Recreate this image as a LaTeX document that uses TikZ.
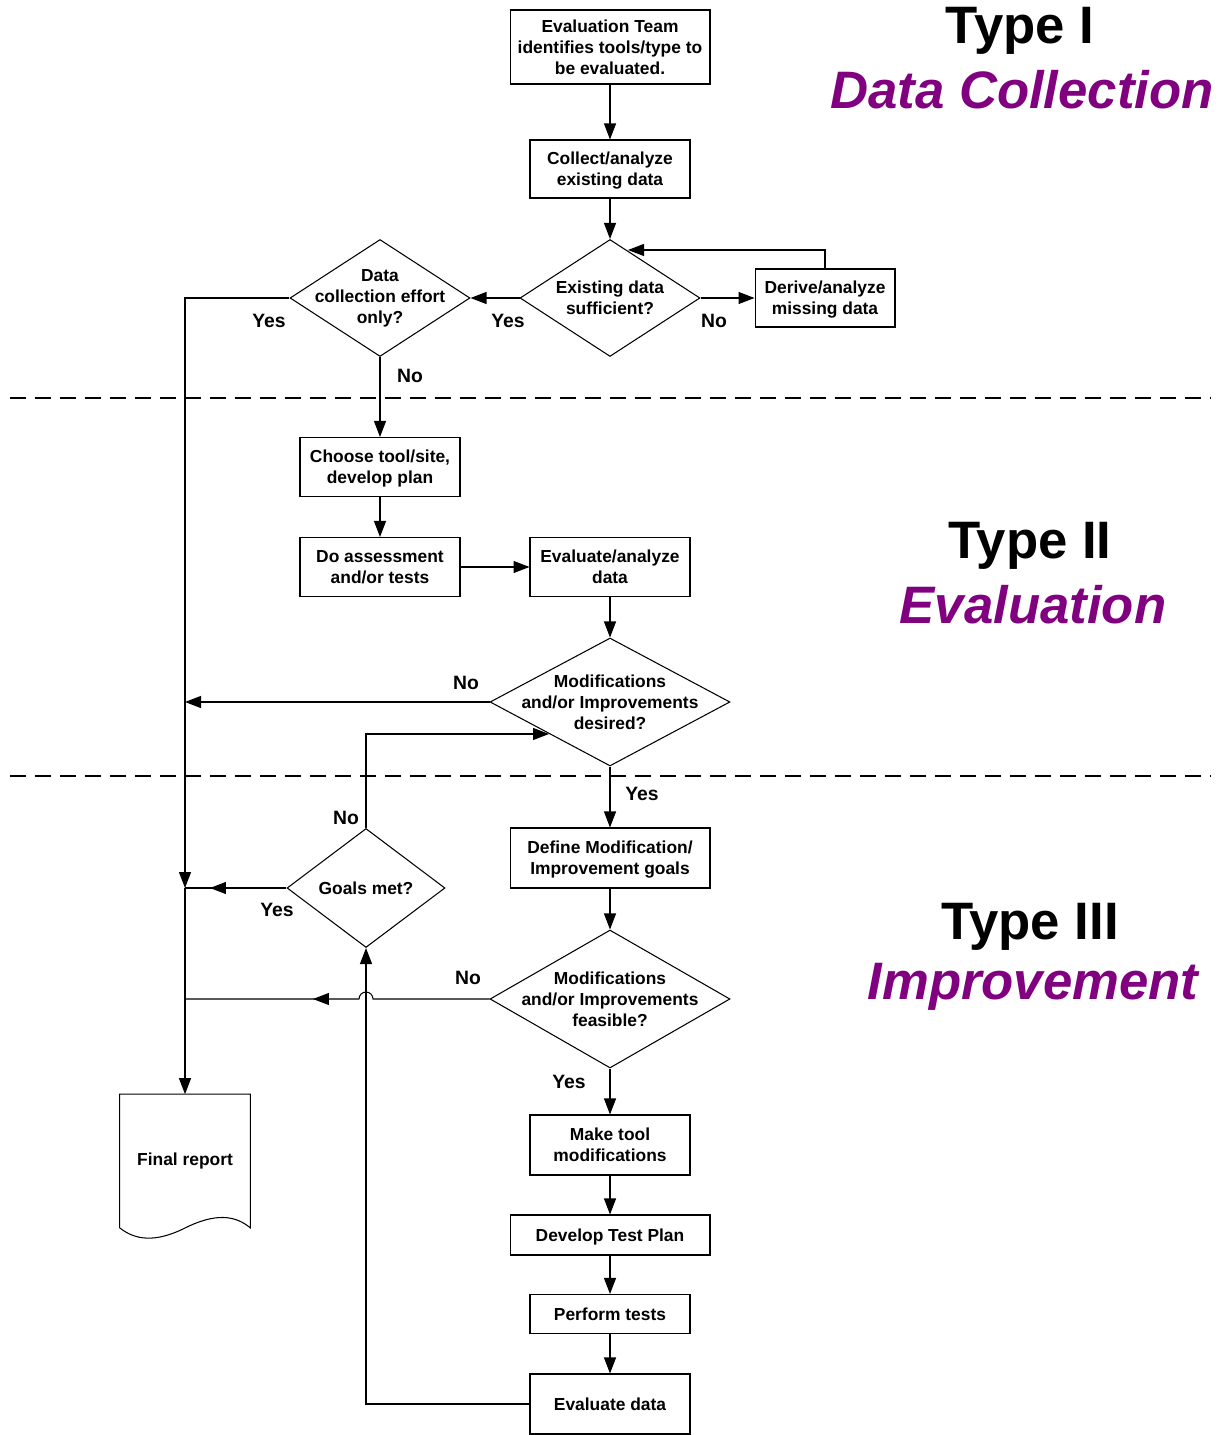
\documentclass[tikz,border=0pt]{standalone}
\usepackage{fontspec}
\setmainfont{Liberation Sans}
\usetikzlibrary{arrows.meta,positioning,shapes.geometric,decorations.markings}
\definecolor{typepurple}{HTML}{800080}
\tikzset{
  typehead/.style={font=\bfseries\fontsize{30}{34}\selectfont,text=black},
  typename/.style={font=\bfseries\itshape\fontsize{30}{34}\selectfont,text=typepurple},
  box/.style={draw,line width=0.6pt,fill=white,align=center,inner sep=1pt,text depth=0pt,font=\bfseries\fontsize{9.9}{12}\selectfont},
  decision/.style={diamond,draw,line width=0.6pt,fill=white,inner sep=0pt},
  dtext/.style={align=center,font=\bfseries\fontsize{9.9}{12}\selectfont},
  lbl/.style={font=\bfseries\fontsize{11}{13}\selectfont},
  report/.style={minimum width=2.6cm,minimum height=2.66cm,inner sep=0pt,font=\bfseries\fontsize{9.9}{12}\selectfont},
  conn/.style={line width=0.6pt},
  arr/.style={-{Triangle[length=3.2mm,width=2.4mm]},line width=0.6pt},
  midarr/.style={line width=0.6pt,postaction={decorate},decoration={markings,mark=at position #1 with {\arrow{Triangle[length=3.2mm,width=2.4mm]}}}},
  divider/.style={dash pattern=on 0.32cm off 0.18cm,line width=0.6pt}
}
\begin{document}
\begin{tikzpicture}[x=0.02cm,y=-0.02cm]
\path[use as bounding box] (0,0) rectangle (1223,1435);
% section titles
\node[typehead] (t1) at (1020,31) {Type I};
\node[typename] (n1) at (1022,90) {Data Collection};
\node[typehead] (t2) at (1030,546) {Type II};
\node[typename] (n2) at (1033,605) {Evaluation};
\node[typehead] (t3) at (1030,927) {Type III};
\node[typename] (n3) at (1033,987) {Improvement};
\draw[divider] (10,398) -- (1210,398);
\draw[divider] (10,776) -- (1210,776);

% type I
\node[box,minimum width=4cm,minimum height=1.48cm] (team) at (610,47) {Evaluation Team\\identifies tools/type to\\be evaluated.};
\node[box,minimum width=3.2cm,minimum height=1.16cm] (collect) at (610,169) {Collect/analyze\\existing data};
\node[decision,minimum width=3.6cm,minimum height=2.34cm,label={[dtext]center:Existing data\\sufficient?}] (suff) at (610,298) {};
\node[box,minimum width=2.8cm,minimum height=1.16cm] (derive) at (825,298) {Derive/analyze\\missing data};
\node[decision,minimum width=3.6cm,minimum height=2.34cm,label={[dtext]center:Data\\collection effort\\only?}] (only) at (380,298) {};
\coordinate (suffin) at (628,250);
\draw[arr] (team) -- (collect);
\draw[arr] (collect) -- (suff);
\draw[arr] (suff.east) -- (derive.west);
\draw[arr] (derive.north) |- (suffin);
\draw[arr] (suff.west) -- (only.east);
\node[lbl] (yes1) at (269,321) {Yes};
\node[lbl] (yes2) at (508,321) {Yes};
\node[lbl] (no1) at (714,321) {No};
\node[lbl] (no2) at (410,376) {No};

% type II
\node[box,minimum width=3.2cm,minimum height=1.18cm] (choose) at (380,467) {Choose tool/site,\\develop plan};
\node[box,minimum width=3.2cm,minimum height=1.18cm] (assess) at (380,567) {Do assessment\\and/or tests};
\node[box,minimum width=3.2cm,minimum height=1.18cm] (evalan) at (610,567) {Evaluate/analyze\\data};
\node[decision,minimum width=4.8cm,minimum height=2.56cm,label={[dtext]center:Modifications\\and/or Improvements\\desired?}] (desired) at (610,702) {};
\draw[arr] (only.south) -- (choose.north);
\draw[arr] (choose) -- (assess);
\draw[arr] (assess) -- (evalan);
\draw[arr] (evalan) -- (desired.north);
\node[lbl] (no3) at (466,683) {No};

% type III
\node[box,minimum width=4cm,minimum height=1.2cm] (define) at (610,858) {Define Modification/\\Improvement goals};
\node[decision,minimum width=3.16cm,minimum height=2.38cm,label={[dtext]center:Goals met?}] (goals) at (366,888) {};
\node[decision,minimum width=4.8cm,minimum height=2.76cm,label={[dtext]center:Modifications\\and/or Improvements\\feasible?}] (feas) at (610,999) {};
\node[box,minimum width=3.2cm,minimum height=1.2cm] (make) at (610,1145) {Make tool\\modifications};
\node[box,minimum width=4cm,minimum height=0.8cm] (testplan) at (610,1235) {Develop Test Plan};
\node[box,minimum width=3.2cm,minimum height=0.78cm] (perform) at (610,1314) {Perform tests};
\node[box,minimum width=3.2cm,minimum height=1.2cm] (evaldata) at (610,1404) {Evaluate data};
\node[report] (report) at (185,1161) {Final report};
\draw[conn] (report.south west) -- (report.north west) -- (report.north east) -- (report.south east)
  .. controls (235,1215) and (215,1213) .. (185,1228) .. controls (155,1243) and (135,1240) .. (report.south west);
\coordinate (desin) at (549,734);
\coordinate (j0) at (185,702);
\coordinate (j1) at (185,888);
\coordinate (j2) at (185,999);
\coordinate (hop) at (373,999);
\draw[arr] (desired.south) -- (define.north);
\draw[arr] (define) -- (feas.north);
\draw[arr] (feas.south) -- (make.north);
\draw[arr] (make) -- (testplan);
\draw[arr] (testplan) -- (perform);
\draw[arr] (perform) -- (evaldata);
\draw[arr] (evaldata.west) -| (goals.south);
\draw[arr] (goals.north) |- (desin);
\draw[midarr=-0.5cm] (goals.west) -- (j1);
\draw[midarr=-2.56cm] (feas.west) -- (hop) arc[start angle=0,end angle=180,radius=0.14cm] -- (j2);
\draw[arr] (only.west) -| (j1);
\draw[arr] (desired.west) -- (j0);
\draw[arr] (j1) -- (report.north);
\node[lbl] (yes3) at (642,794) {Yes};
\node[lbl] (no4) at (346,818) {No};
\node[lbl] (yes4) at (277,910) {Yes};
\node[lbl] (no5) at (468,978) {No};
\node[lbl] (yes5) at (569,1082) {Yes};
\end{tikzpicture}
\end{document}
